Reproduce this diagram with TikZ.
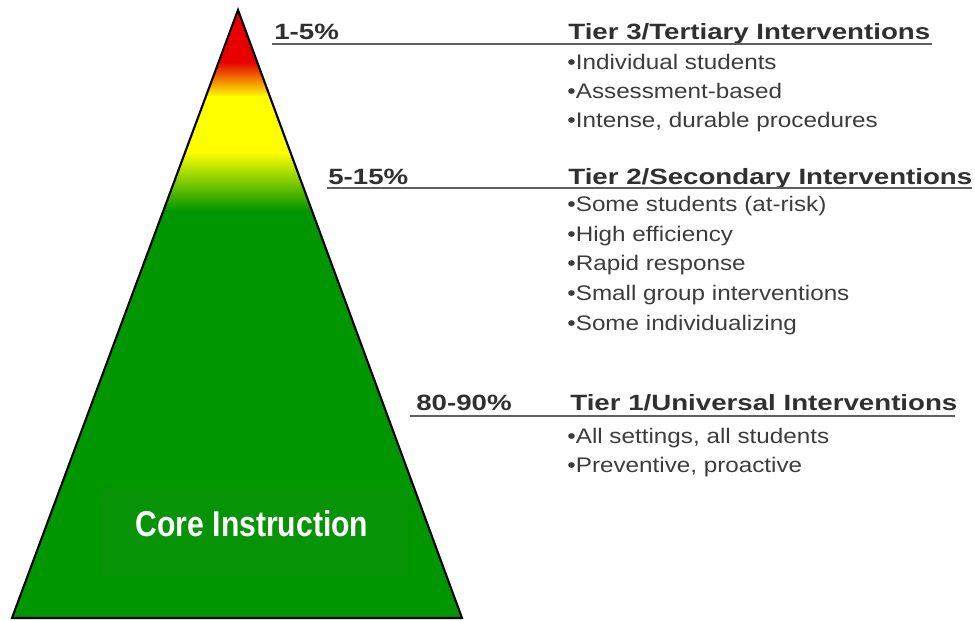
\documentclass[tikz,border=0pt]{standalone}
\usepackage{fontspec}
\setmainfont{Liberation Sans}
\newfontfamily\headfont[FakeStretch=1.25]{Liberation Sans}
\newfontfamily\itemfont[FakeStretch=1.15]{Liberation Sans}
\newfontfamily\corefont[FakeStretch=0.84]{Liberation Sans}
\definecolor{tipred}{RGB}{232,0,0}
\definecolor{midyellow}{RGB}{255,255,0}
\definecolor{basegreen}{RGB}{0,150,0}
\definecolor{boxgreen}{RGB}{6,148,6}
\definecolor{textgray}{RGB}{48,48,48}
\definecolor{itemgray}{RGB}{60,60,60}
\definecolor{rulegray}{RGB}{95,95,95}

\begin{document}
\begin{tikzpicture}[x=0.02cm,y=-0.02cm,
		head/.style={anchor=base west,inner sep=0,text=textgray,font=\headfont\bfseries\fontsize{12.6}{15}\selectfont},
		item/.style={anchor=base west,inner sep=0,text=itemgray,font=\itemfont\fontsize{12}{14}\selectfont},
		tierrule/.style={draw=rulegray,line width=1.1pt}]
		\useasboundingbox (0,0) rectangle (975,620);
		\coordinate (apex) at (238,10);
		\coordinate (bl) at (12,618);
		\coordinate (br) at (462,618);
		% colour bands of the pyramid
		\begin{scope}
			\clip (apex)--(bl)--(br)--cycle;
			\fill[tipred](0,0) rectangle (475,63);
			\shade[top color=tipred,bottom color=midyellow](0,62) rectangle (475,97);
			\fill[midyellow](0,96) rectangle (475,153);
			\shade[top color=midyellow,bottom color=basegreen](0,152) rectangle (475,211);
			\fill[basegreen](0,210) rectangle (475,620);
			\fill[boxgreen](100,488) rectangle (407,576);
		\end{scope}
		\draw[black,line width=1.2pt](apex)--(bl)--(br)--cycle;
		\node[white,font=\corefont\bfseries\fontsize{20.4}{24}\selectfont] (core) at (252,524) {Core Instruction};
		% tier 3
		\node[head] (pct3) at (274,39) {1-5\%};
		\node[head] (tier3) at (568,39) {Tier 3/Tertiary Interventions};
		\draw[tierrule](272,44)--(932,44);
		\node[item] (t3a) at (567,69) {\textbullet Individual students};
		\node[item] (t3b) at (567,98) {\textbullet Assessment-based};
		\node[item] (t3c) at (567,127) {\textbullet Intense, durable procedures};
		% tier 2
		\node[head] (pct2) at (328,184) {5-15\%};
		\node[head] (tier2) at (568,184) {Tier 2/Secondary Interventions};
		\draw[tierrule](327,188)--(972,188);
		\node[item] (t2a) at (567,211) {\textbullet Some students (at-risk)};
		\node[item] (t2b) at (567,241) {\textbullet High efficiency};
		\node[item] (t2c) at (567,270) {\textbullet Rapid response};
		\node[item] (t2d) at (567,300) {\textbullet Small group interventions};
		\node[item] (t2e) at (567,330) {\textbullet Some individualizing};
		% tier 1
		\node[head] (pct1) at (416,410) {80-90\%};
		\node[head] (tier1) at (570,410) {Tier 1/Universal Interventions};
		\draw[tierrule](410,416)--(955,416);
		\node[item] (t1a) at (567,443) {\textbullet All settings, all students};
		\node[item] (t1b) at (567,472) {\textbullet Preventive, proactive};
\end{tikzpicture}
\end{document}
